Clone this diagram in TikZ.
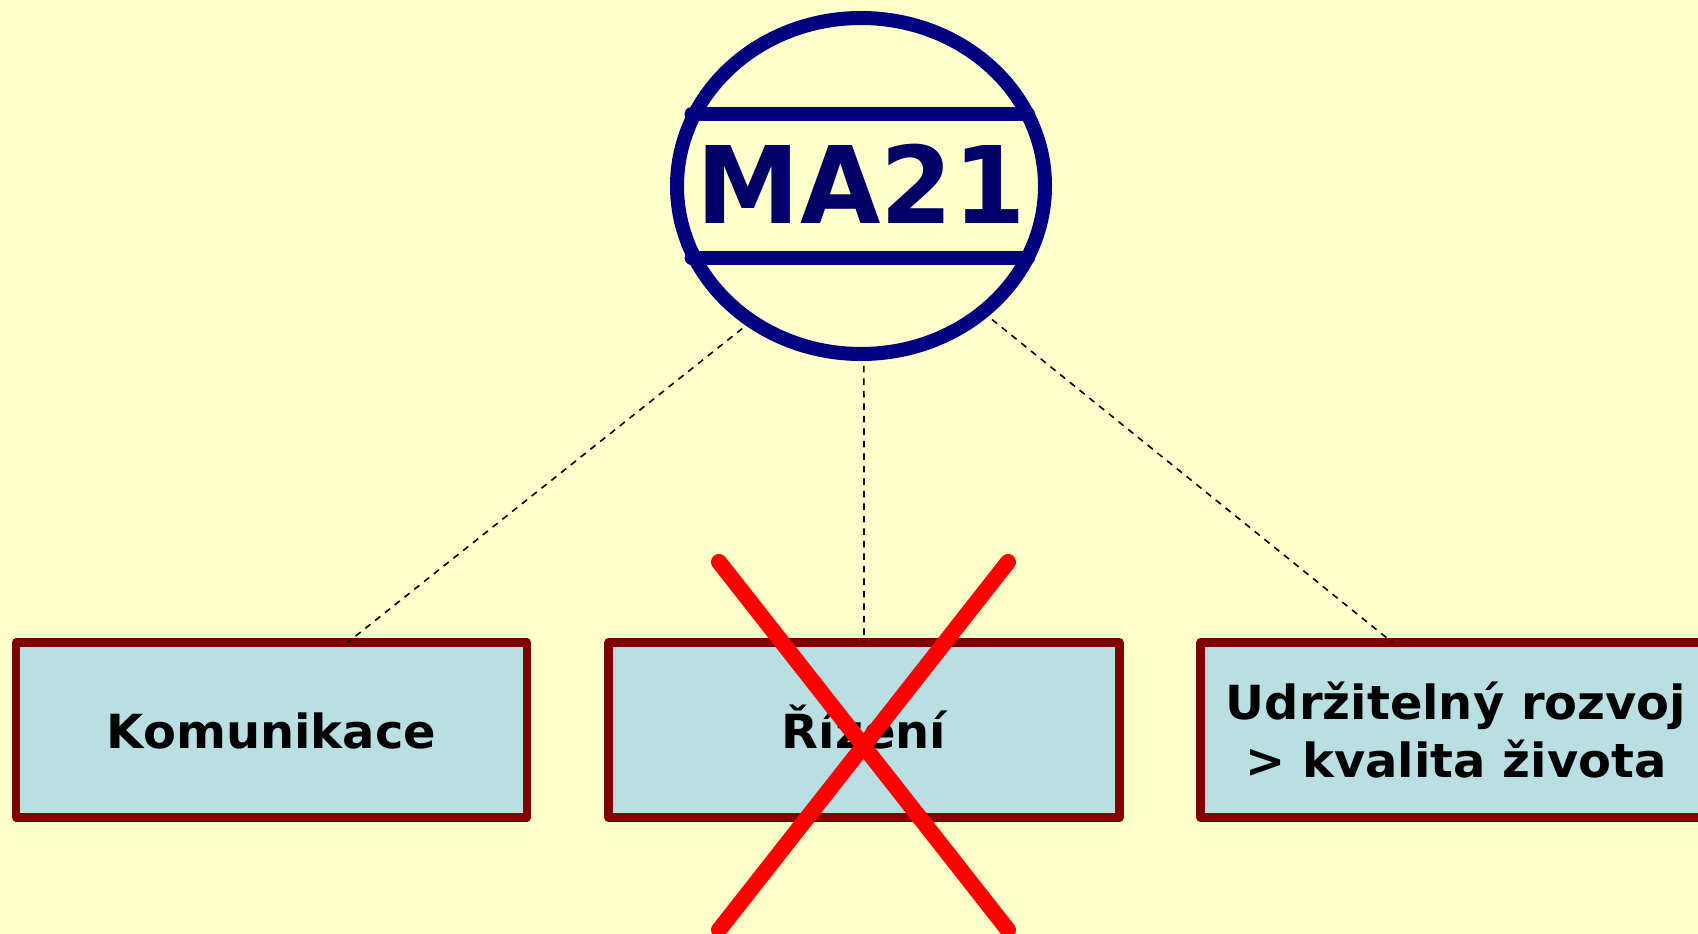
\documentclass[tikz,border=0pt]{standalone}
\usepackage{fontspec}
\setmainfont{DejaVu Sans}[BoldFont={DejaVu Sans Bold}]
\newfontfamily\logofont{DejaVu Sans Bold}[FakeStretch=0.972]
\newfontfamily\boxfont{DejaVu Sans Bold}[FakeStretch=1.02]
\usetikzlibrary{shapes.geometric}
\definecolor{bgyellow}{HTML}{FFFFCC}
\definecolor{boxfill}{HTML}{B9DFE3}
\definecolor{boxline}{HTML}{800000}
\definecolor{navyline}{HTML}{000080}
\definecolor{navytext}{HTML}{000066}
\tikzset{
  topicbox/.style={draw=boxline,fill=boxfill,line width=8.5pt,line join=round,rectangle,
    inner sep=0pt,outer sep=0pt,minimum width=511pt,minimum height=175pt,font=\boxfont\fontsize{47}{58}\selectfont,align=center},
  linkline/.style={black,line width=1.6pt,dash pattern=on 6.5pt off 6pt},
  bandline/.style={navyline,line width=14pt,line cap=round},
  crossline/.style={red,line width=16pt,line cap=round}
}
\begin{document}
\begin{tikzpicture}[x=1pt,y=-1pt]
\useasboundingbox (0,0) rectangle (1698,934);
\clip (0,0) rectangle (1698,934);
\fill[bgyellow] (0,0) rectangle (1698,934);
\node[ellipse,draw=navyline,line width=14pt,inner sep=0pt,outer sep=0pt,minimum width=368pt,minimum height=336pt] (ma) at (861,186) {};
\node[text=navytext,font=\logofont\fontsize{107}{107}\selectfont,inner sep=0pt] (malabel) at (861,184) {MA21};
\draw[bandline] (691.5,114) -- (1028,114);
\draw[bandline] (691.5,258) -- (1028,258);
\node[topicbox,text height=36pt,text depth=0pt] (kom) at (271.5,730) {Komunikace};
\node[topicbox,text height=36pt,text depth=0pt] (riz) at (864,730) {Řízení};
\node[topicbox] (udr) at (1456,730) {Udržitelný rozvoj\\> kvalita života};
\draw[linkline,shorten <=12pt] (ma.-129.6) -- (kom.49.5);
\draw[linkline,shorten <=12pt] (ma.-89.2) -- (riz.90);
\draw[linkline,shorten <=12pt] (ma.-46.1) -- (udr.126.5);
\draw[crossline] (719,562) -- (1008,930);
\draw[crossline] (1008,562) -- (719,930);
\end{tikzpicture}
\end{document}
